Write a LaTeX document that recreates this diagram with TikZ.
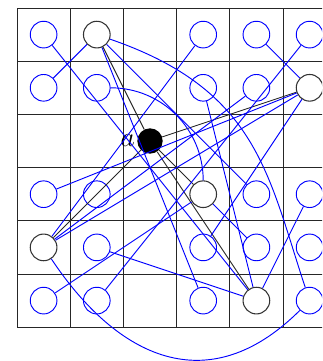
\documentclass[tikz,border=0pt]{standalone}
\begin{document}
\begin{tikzpicture}[x=0.75pt,y=-0.75pt]
\tikzset{
 bnode/.style={circle,draw=blue,line width=0.7pt,minimum size=20pt,inner sep=0pt},
 hnode/.style={circle,draw=black!80,line width=0.8pt,minimum size=20pt,inner sep=0pt},
 anode/.style={circle,fill=black,minimum size=19pt,inner sep=0pt},
 bedge/.style={blue,line width=0.7pt},
 kedge/.style={black!85,line width=0.7pt},
 gridline/.style={black!85,line width=0.7pt}
}
\useasboundingbox (0,0) rectangle (322,361);
\clip (0,0) rectangle (322,361);
\foreach \i in {0,...,6}{
  \draw[gridline] ({17+53.2*\i},8) -- ({17+53.2*\i},327.2);
  \draw[gridline] (17,{8+53.2*\i}) -- (336.2,{8+53.2*\i});
}
\foreach \r/\c in {0/0,0/3,0/4,0/5,1/0,1/1,1/3,1/4,3/0,3/1,3/4,3/5,4/1,4/3,4/4,4/5,5/0,5/1,5/3,5/5}
  \node[bnode] (n\r\c) at ({43.6+53.2*\c},{34.6+53.2*\r}) {};
\foreach \r/\c in {0/1,1/5,3/3,4/0,5/4}
  \node[hnode] (n\r\c) at ({43.6+53.2*\c},{34.6+53.2*\r}) {};
\node[anode,label={[inner sep=0pt,label distance=1.5pt,font=\fontsize{20}{24}\selectfont]left:$a$}] (a) at (150,141) {};
% black edges
\foreach \h in {n01,n15,n40,n33,n54} \draw[kedge] (a) -- (\h);
% blue edges
\draw[bedge] (n01) -- (n10);
\draw[bedge] (n01) -- (n53);
\draw[bedge] (n01) -- (n34);
\draw[bedge] (n01) .. controls (257.5,89.9) and (267.7,174.1) .. (n55);
\draw[bedge] (n11) to[bend left=45] (n33);
\draw[bedge] (n00) -- (n54);
\draw[bedge] (n15) -- (n04);
\draw[bedge] (n15) -- (n30);
\draw[bedge] (n15) -- (n40);
\draw[bedge] (n15) -- (n43);
\draw[bedge] (n05) -- (n51);
\draw[bedge] (n33) -- (n50);
\draw[bedge] (n33) -- (n44);
\draw[bedge] (n54) -- (n41);
\draw[bedge] (n54) -- (n35);
\draw[bedge] (n54) -- (n13);
\draw[bedge] (n40) -- (n03);
\draw[bedge] (n40) -- (n14);
\draw[bedge] (n40.-56) .. controls (117,357.6) and (208,401.9) .. (n55.-135);
\end{tikzpicture}
\end{document}
